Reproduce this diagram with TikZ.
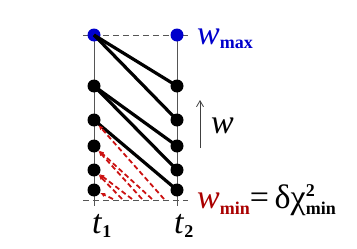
\documentclass[tikz,border=0pt]{standalone}
\usepackage{fontspec}
\setmainfont{Liberation Serif}
\usepackage{tikz}
\usetikzlibrary{arrows.meta,backgrounds}
\definecolor{wBlue}{HTML}{0000CC}
\definecolor{wRed}{HTML}{AA0000}
\definecolor{probeRed}{HTML}{CC1111}
\definecolor{lineGray}{HTML}{555555}
\newcommand{\lowsub}[2]{\raisebox{-#1}{\fontsize{18}{20}\selectfont\bfseries #2}}
\tikzset{
  blob/.style={circle, fill=#1, inner sep=0pt, minimum size=13pt},
  timeline/.style={draw=lineGray, line width=1pt},
  level/.style={draw=lineGray, line width=1pt, dash pattern=on 6pt off 4pt},
  jump/.style={draw=black, line width=3.2pt},
  probe/.style={-{Latex[length=5pt,width=4.5pt]}, draw=probeRed, line width=1.8pt, dash pattern=on 5pt off 3pt},
  lbl/.style={inner sep=0pt, anchor=base west, font=\fontsize{34}{40}\selectfont},
}
\begin{document}
\begin{tikzpicture}[x=1pt, y=1pt]
\useasboundingbox (0,0) rectangle (357,-249);

% points at t1 and t2
\node[blob=wBlue] (L1) at (94,-35) {};
\node[blob=wBlue] (R1) at (177,-35) {};
\foreach \i/\y in {2/86,3/120,4/146,5/170,6/190} {
  \node[blob=black] (L\i) at (94,-\y) {};
  \node[blob=black] (R\i) at (177,-\y) {};
}

\coordinate (t1foot) at (94,-206);
\coordinate (t2foot) at (177,-206);
\coordinate (topW) at (83,-35);
\coordinate (topE) at (188,-35);
\coordinate (botW) at (83,-200);
\coordinate (botE) at (188,-200);

\begin{scope}[on background layer]
\draw[timeline] (L1.center) -- (t1foot);
\draw[timeline] (R1.center) -- (t2foot);
\draw[level] (topW) -- (topE);
\draw[level] (botW) -- (botE);
\end{scope}

% allowed jumps
\draw[jump] (L1.center) -- (R2.center);
\draw[jump] (L1.center) -- (R3.center);
\draw[jump] (L2.center) -- (R4.center);
\draw[jump] (L2.center) -- (R5.center);
\draw[jump] (L3.center) -- (R6.center);

% rejected ones, below w_min
\foreach \b/\x/\t in {1/113/6,2/122/5,3/132/5,4/142/4,5/152/4,6/164/3} {
  \coordinate (B\b) at (\x,-199);
  \draw[probe] (B\b) -- (L\t);
}

\coordinate (wlow) at (200,-148);
\coordinate (whigh) at (200,-100);
\draw[-{Straight Barb[length=6pt,width=7pt]}, line width=0.8pt, black!75] (wlow) -- (whigh);

\node[lbl, text=wBlue] (wmax) at (197,-45) {\textit{w}\lowsub{4pt}{max}};
\node[lbl] (wlab) at (211,-133) {\textit{w}};
\node[lbl] (wmin) at (197,-208) {\textcolor{wRed}{\textit{w}\lowsub{6pt}{min}}=\,δχ\rlap{\raisebox{12pt}{\fontsize{18}{20}\selectfont\bfseries 2}}\lowsub{6pt}{min}};
\node[lbl] (t1) at (92,-233) {\textit{t}\lowsub{5pt}{1}};
\node[lbl] (t2) at (174,-233) {\textit{t}\lowsub{5pt}{2}};
\end{tikzpicture}
\end{document}
